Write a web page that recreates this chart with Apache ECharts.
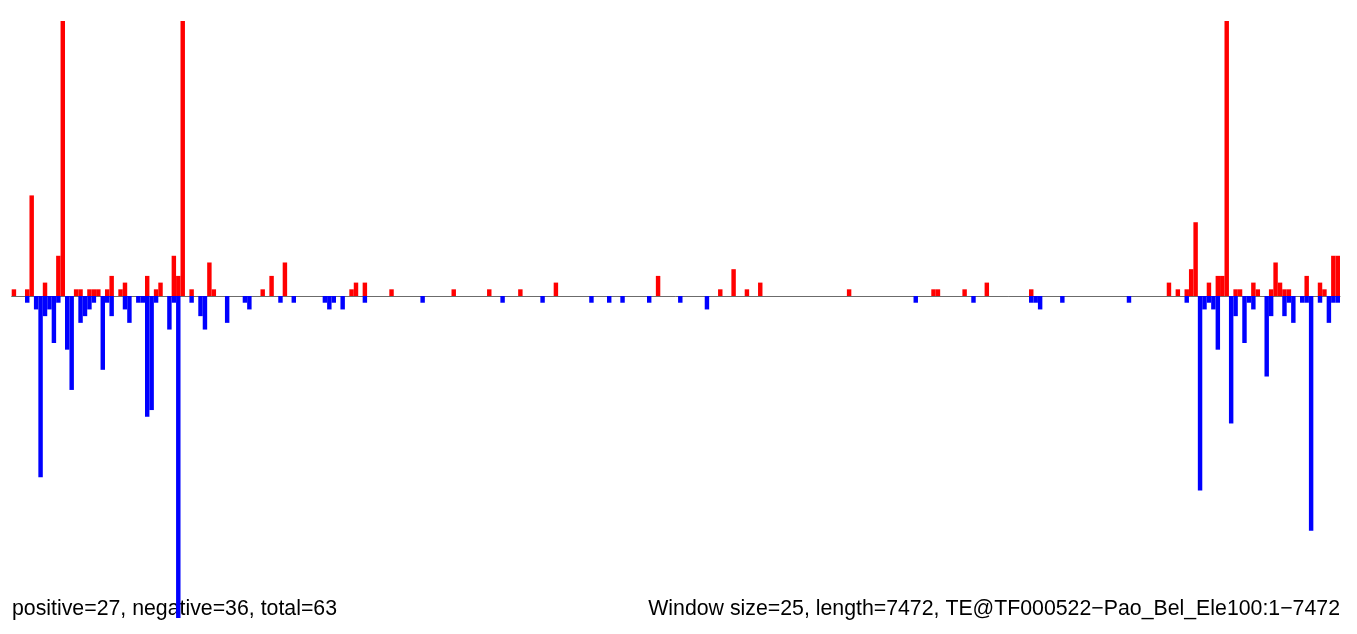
<!DOCTYPE html>
<html><head><meta charset="utf-8">
<script src="https://cdn.jsdelivr.net/npm/echarts@6/dist/echarts.min.js"></script>
<style>html,body{margin:0;padding:0;background:#fff}#c{width:1357px;height:634px}</style>
</head><body><div id="c"></div>
<script>
const nWindows = 299;
const posIdx = [0,3,4,7,10,11,14,15,17,18,19,21,22,24,25,30,32,33,36,37,38,40,44,45,56,58,61,76,77,79,85,99,107,114,122,145,159,162,165,168,188,207,208,214,219,229,260,262,264,265,266,269,271,272,273,275,276,279,280,283,284,285,286,287,291,294,295,297,298];
const posVal = [1,1,15,2,6,41,1,1,1,1,1,1,3,1,2,3,1,2,6,3,41,1,5,1,1,3,5,1,2,2,1,1,1,1,2,3,1,4,1,2,1,1,1,1,2,1,2,1,1,4,11,2,3,3,41,1,1,2,1,1,5,2,1,1,3,2,1,6,6];
const negIdx = [3,5,6,7,8,9,10,12,13,15,16,17,18,20,21,22,25,26,28,29,30,31,32,35,36,37,40,42,43,48,52,53,60,63,70,71,72,74,79,92,110,119,130,134,137,143,150,156,203,216,229,230,231,236,251,264,267,268,269,270,271,274,275,277,278,279,282,283,286,287,288,290,291,292,294,296,297,298];
const negVal = [1,2,27,3,2,7,1,8,14,4,3,2,1,11,1,3,2,4,1,1,18,17,1,5,1,48,1,3,5,4,1,2,1,1,1,2,1,2,1,1,1,1,1,1,1,1,1,2,1,1,1,1,2,1,1,1,29,2,1,2,8,19,3,7,1,2,12,3,3,1,4,1,1,35,1,4,1,1];
const leftLabel = 'positive=27, negative=36, total=63';
const rightLabel = 'Window size=25, length=7472, TE@TF000522\u2212Pao_Bel_Ele100:1\u22127472';

const categories = Array.from({length: nWindows}, (_, i) => String(i + 1));
const pos = new Array(nWindows).fill(null);
posIdx.forEach((k, j) => { pos[k] = posVal[j]; });
const neg = new Array(nWindows).fill(null);
negIdx.forEach((k, j) => { neg[k] = -negVal[j]; });

const chart = echarts.init(document.getElementById('c'), null, {renderer: 'canvas'});
chart.setOption({
  animation: false,
  backgroundColor: '#ffffff',
  grid: {left: 11.7, right: 17, top: 21, bottom: 16, containLabel: false},
  xAxis: {
    type: 'category', data: categories,
    axisLine: {show: true, onZero: true, lineStyle: {color: '#6b6b6b', width: 1}},
    axisTick: {show: false}, axisLabel: {show: false}, splitLine: {show: false}
  },
  yAxis: {type: 'value', min: -48, max: 41, show: false, splitLine: {show: false}},
  series: [
    {type: 'bar', name: 'positive', data: pos, stack: 's', barCategoryGap: '0%', barGap: '0%',
     itemStyle: {color: '#ff0000'}, z: 3},
    {type: 'bar', name: 'negative', data: neg, stack: 's', barCategoryGap: '0%', barGap: '0%',
     itemStyle: {color: '#0000ff'}, z: 3}
  ],
  graphic: [
    {type: 'text', left: 12, top: 599, z: 0, zlevel: 0,
     style: {text: leftLabel, font: '21.3px "Liberation Sans", Arial, sans-serif', fill: '#000'}},
    {type: 'text', right: 17, top: 599, z: 0, zlevel: 0,
     style: {text: rightLabel, font: '21.3px "Liberation Sans", Arial, sans-serif', fill: '#000'}}
  ]
});
</script>
</body></html>
